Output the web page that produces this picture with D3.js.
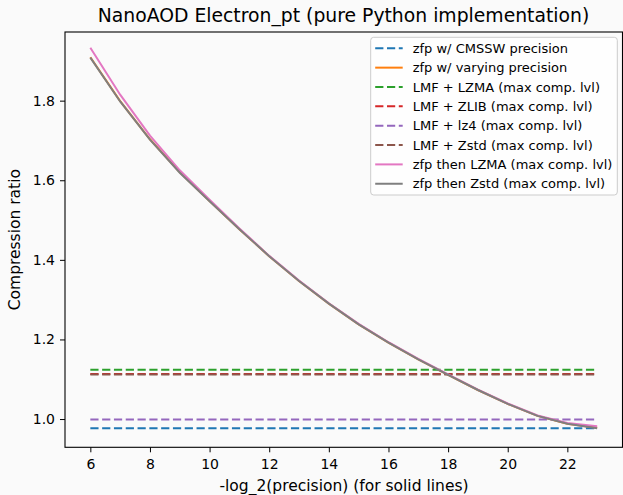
<!DOCTYPE html>
<html>
<head>
<meta charset="utf-8">
<script src="https://cdn.jsdelivr.net/npm/d3@7"></script>
<style>
  body { margin: 0; background: #fafafa; }
  text { font-family: "DejaVu Sans", sans-serif; fill: #000; }
</style>
</head>
<body>
<div id="chart"></div>
<script>
const width = 623
const height = 495
const margin = {left: 65, right: 0.5, top: 32, bottom: 47.7}

// precision bits for the solid lines
const precision = [6, 7, 8, 9, 10, 11, 12, 13, 14, 15, 16, 17, 18, 19, 20, 21, 22, 23]
const zfpVarying = [1.909, 1.799, 1.703, 1.620, 1.548, 1.477, 1.409, 1.347, 1.290, 1.238, 1.192, 1.150, 1.111, 1.073, 1.038, 1.008, 0.988, 0.978]
const zfpLzma = [1.933, 1.815, 1.712, 1.625, 1.551, 1.479, 1.410, 1.348, 1.291, 1.239, 1.193, 1.151, 1.112, 1.074, 1.039, 1.009, 0.990, 0.982]
const zfpZstd = [1.908, 1.798, 1.702, 1.619, 1.547, 1.477, 1.409, 1.347, 1.290, 1.238, 1.192, 1.150, 1.111, 1.073, 1.038, 1.008, 0.988, 0.977]

// flat reference values (dashed)
const cmssw = 0.977
const lmfLzma = 1.124
const lmfZlib = 1.113
const lmfLz4 = 0.999
const lmfZstd = 1.112

const yTicks = [1.0, 1.2, 1.4, 1.6, 1.8]
const xTicks = [6, 8, 10, 12, 14, 16, 18, 20, 22]

const series = [
  {name: "zfp w/ CMSSW precision", color: "#1f77b4", dash: true, values: precision.map(() => cmssw)},
  {name: "zfp w/ varying precision", color: "#ff7f0e", dash: false, values: zfpVarying},
  {name: "LMF + LZMA (max comp. lvl)", color: "#2ca02c", dash: true, values: precision.map(() => lmfLzma)},
  {name: "LMF + ZLIB (max comp. lvl)", color: "#d62728", dash: true, values: precision.map(() => lmfZlib)},
  {name: "LMF + lz4 (max comp. lvl)", color: "#9467bd", dash: true, values: precision.map(() => lmfLz4)},
  {name: "LMF + Zstd (max comp. lvl)", color: "#8c564b", dash: true, values: precision.map(() => lmfZstd)},
  {name: "zfp then LZMA (max comp. lvl)", color: "#e377c2", dash: false, values: zfpLzma},
  {name: "zfp then Zstd (max comp. lvl)", color: "#7f7f7f", dash: false, values: zfpZstd}
]

const svg = d3.select('#chart')
  .append("svg")
  .attr("width", width)
  .attr("height", height)

svg.append("rect").attr("width", width).attr("height", height).attr("fill", "#fafafa")

const x = d3.scaleLinear().domain([5.15, 23.85]).range([margin.left, width - margin.right])
const y = d3.scaleLinear().domain([0.929, 1.9725]).range([height - margin.bottom, margin.top])

const line = d3.line()
  .x((d, i) => x(precision[i]))
  .y(d => y(d))

svg.selectAll(".series")
  .data(series)
  .enter()
  .append("path")
  .attr("class", "series")
  .attr("d", d => line(d.values))
  .attr("fill", "none")
  .attr("stroke", d => d.color)
  .attr("stroke-width", 2)
  .attr("stroke-dasharray", d => d.dash ? "8.2,3.6" : null)

// axes
const xAxis = svg.append("g")
  .attr("transform", `translate(0,${height - margin.bottom})`)
  .call(d3.axisBottom(x).tickValues(xTicks).tickSize(5).tickPadding(7).tickFormat(d3.format("d")))
const yAxis = svg.append("g")
  .attr("transform", `translate(${margin.left},0)`)
  .call(d3.axisLeft(y).tickValues(yTicks).tickSize(5).tickPadding(5).tickFormat(d3.format(".1f")))

for (const ax of [xAxis, yAxis]) {
  ax.selectAll("text").style("font-size", "14px").attr("fill", "#000")
  ax.selectAll("line").attr("stroke", "#000").attr("stroke-width", 1)
  ax.select(".domain").remove()
}

// frame
svg.append("rect")
  .attr("x", margin.left)
  .attr("y", margin.top)
  .attr("width", width - margin.right - margin.left)
  .attr("height", height - margin.bottom - margin.top)
  .attr("fill", "none")
  .attr("stroke", "#000")
  .attr("stroke-width", 1.1)

svg.append("text")
  .attr("x", 343.5)
  .attr("y", 22)
  .style("text-anchor", "middle")
  .style("font-size", "18.8px")
  .text("NanoAOD Electron_pt (pure Python implementation)")

svg.append("text")
  .attr("x", 344)
  .attr("y", 491)
  .style("text-anchor", "middle")
  .style("font-size", "15.5px")
  .text("-log_2(precision) (for solid lines)")

svg.append("text")
  .attr("transform", `translate(20,${(margin.top + height - margin.bottom) / 2}) rotate(-90)`)
  .style("text-anchor", "middle")
  .style("font-size", "15.5px")
  .text("Compression ratio")

// legend
const legend = svg.append("g").attr("transform", "translate(370.7,37.3)")
legend.append("rect")
  .attr("width", 246.6)
  .attr("height", 157.7)
  .attr("rx", 3)
  .attr("fill", "#ffffff")
  .attr("fill-opacity", 0.8)
  .attr("stroke", "#cccccc")
  .attr("stroke-width", 1)

const item = legend.selectAll(".item")
  .data(series)
  .enter()
  .append("g")
  .attr("class", "item")
  .attr("transform", (d, i) => `translate(0,${11 + i * 19.35})`)

item.append("line")
  .attr("x1", 4.5)
  .attr("x2", 32)
  .attr("stroke", d => d.color)
  .attr("stroke-width", 2)
  .attr("stroke-dasharray", d => d.dash ? "8.2,3.6" : null)

item.append("text")
  .attr("x", 42)
  .attr("dy", "0.36em")
  .style("font-size", "13px")
  .text(d => d.name)
</script>
</body>
</html>
